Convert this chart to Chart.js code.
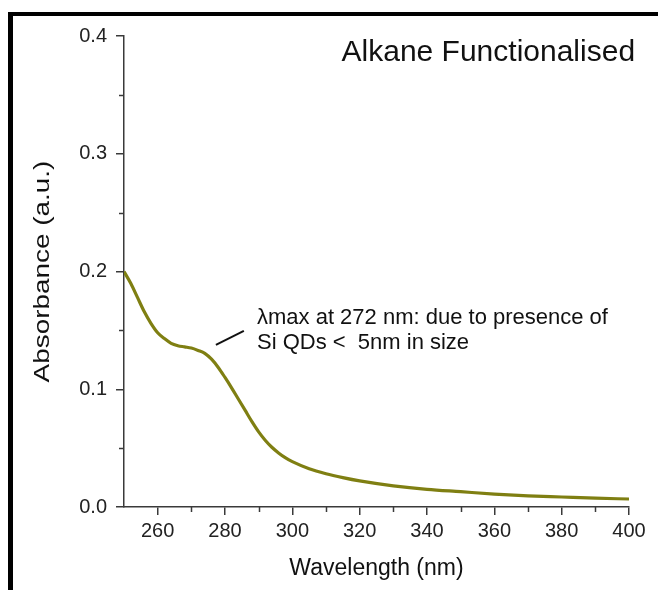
<!DOCTYPE html>
<html>
<head>
<meta charset="utf-8">
<script src="https://cdn.jsdelivr.net/npm/chart.js@4/dist/chart.umd.min.js"></script>
<style>
  html, body { margin: 0; padding: 0; background: #fff; }
  #wrap { position: relative; width: 658px; height: 590px; overflow: hidden; }
  #frame { position: absolute; left: 8px; top: 12px; width: 700px; height: 640px;
           border-top: 4px solid #000; border-left: 5px solid #000; pointer-events: none; }
  canvas { position: absolute; left: 0; top: 0; }
</style>
</head>
<body>
<div id="wrap">
<canvas id="c" width="658" height="590"></canvas>
<div id="frame"></div>
</div>
<script>
// ---- data ----
const wavelengths = [250,252,254,256,258,260,262,264,266,268,270,272,274,276,278,280,282,284,286,288,290,292,294,296,298,300,305,310,315,320,330,340,350,360,370,380,390,400];
const absorbance  = [0.200,0.190,0.178,0.166,0.156,0.148,0.143,0.139,0.137,0.136,0.135,0.133,0.1305,0.1255,0.1185,0.110,0.101,0.0915,0.082,0.0725,0.0638,0.0565,0.0505,0.0457,0.0417,0.0385,0.0325,0.0283,0.025,0.0222,0.018,0.015,0.013,0.011,0.0095,0.0085,0.0075,0.0068];
const xMajorTicks = [260,280,300,320,340,360,380,400];
const xMinorTicks = [270,290,310,330,350,370,390];
const yMajorTicks = [0.0,0.1,0.2,0.3,0.4];
const yMinorTicks = [0.05,0.15,0.25,0.35];
const chartTitle = "Alkane Functionalised";
const xTitle = "Wavelength (nm)";
const yTitle = "Absorbance (a.u.)";
const noteLines = ["\u03bbmax at 272 nm: due to presence of", "Si QDs <  5nm in size"];
const notePointer = [[277.3, 0.1376], [285.6, 0.1495]];
const noteAnchor = [289.5, 0.1555];

const FONT = "'Liberation Sans', Arial, sans-serif";
const AXIS = "#3a3a3a";

const extras = {
  id: 'extras',
  afterDraw(chart) {
    const ctx = chart.ctx, xs = chart.scales.x, ys = chart.scales.y;
    ctx.save();
    ctx.strokeStyle = AXIS; ctx.lineWidth = 1.5;
    // minor ticks
    const xb = ys.getPixelForValue(0);
    xMinorTicks.forEach(v => { const px = Math.round(xs.getPixelForValue(v)) + 0.5;
      ctx.beginPath(); ctx.moveTo(px, xb); ctx.lineTo(px, xb + 5); ctx.stroke(); });
    const yl = xs.getPixelForValue(250);
    yMinorTicks.forEach(v => { const py = Math.round(ys.getPixelForValue(v)) + 0.5;
      ctx.beginPath(); ctx.moveTo(yl, py); ctx.lineTo(yl - 5, py); ctx.stroke(); });
    // chart title
    ctx.fillStyle = "#111";
    ctx.font = "30px " + FONT;
    ctx.textAlign = "right"; ctx.textBaseline = "alphabetic";
    ctx.fillText(chartTitle, xs.getPixelForValue(401.8), ys.getPixelForValue(0.379));
    // y axis title (stretched along the axis like the reference)
    ctx.save();
    ctx.translate(49, (ys.top + ys.bottom) / 2);
    ctx.rotate(-Math.PI / 2);
    ctx.scale(1.24, 1);
    ctx.font = "22.5px " + FONT;
    ctx.textAlign = "center"; ctx.textBaseline = "alphabetic";
    ctx.fillText(yTitle, 0, 0);
    ctx.restore();
    // note
    ctx.font = "22px " + FONT;
    ctx.textAlign = "left";
    const nx = xs.getPixelForValue(noteAnchor[0]), ny = ys.getPixelForValue(noteAnchor[1]);
    noteLines.forEach((t, i) => ctx.fillText(t, nx, ny + i * 25));
    ctx.strokeStyle = "#111"; ctx.lineWidth = 2;
    ctx.beginPath();
    ctx.moveTo(xs.getPixelForValue(notePointer[0][0]), ys.getPixelForValue(notePointer[0][1]));
    ctx.lineTo(xs.getPixelForValue(notePointer[1][0]), ys.getPixelForValue(notePointer[1][1]));
    ctx.stroke();
    ctx.restore();
  }
};

new Chart(document.getElementById('c'), {
  type: 'line',
  data: {
    datasets: [{
      data: wavelengths.map((w, i) => ({x: w, y: absorbance[i]})),
      borderColor: '#7f7f12',
      borderWidth: 3.2,
      pointRadius: 0,
      cubicInterpolationMode: 'monotone',
      fill: false
    }]
  },
  options: {
    responsive: false,
    animation: false,
    layout: { padding: { left: 0, top: 36, right: 29, bottom: 0 } },
    plugins: { legend: { display: false }, tooltip: { enabled: false } },
    scales: {
      x: {
        type: 'linear', min: 250, max: 400,
        afterBuildTicks: s => { s.ticks = xMajorTicks.map(v => ({value: v})); },
        afterFit: s => { s.height = 83; },
        grid: { drawOnChartArea: false, drawTicks: true, tickLength: 8, color: AXIS, lineWidth: 1.5 },
        border: { display: true, color: AXIS, width: 1.5 },
        ticks: { color: '#222', font: { family: FONT, size: 20 }, padding: 4, callback: v => String(v) },
        title: { display: true, text: xTitle, color: '#111', font: { family: FONT, size: 23 }, padding: { top: 8, bottom: 8 } }
      },
      y: {
        type: 'linear', min: 0, max: 0.4,
        afterBuildTicks: s => { s.ticks = yMajorTicks.map(v => ({value: v})); },
        afterFit: s => { s.width = 124; },
        grid: { drawOnChartArea: false, drawTicks: true, tickLength: 8, color: AXIS, lineWidth: 1.5 },
        border: { display: true, color: AXIS, width: 1.5 },
        ticks: { color: '#222', font: { family: FONT, size: 20 }, padding: 9, callback: v => Number(v).toFixed(1) },
        title: { display: false }
      }
    }
  },
  plugins: [extras]
});
</script>
</body>
</html>
